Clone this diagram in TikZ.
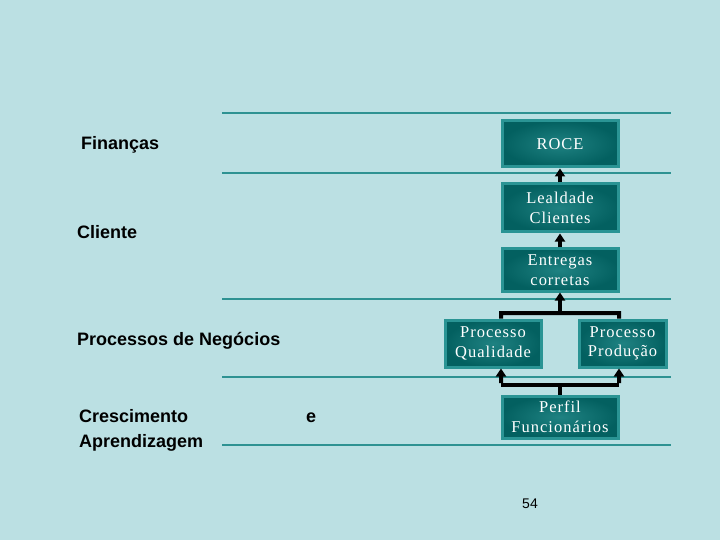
\documentclass[tikz,border=0pt]{standalone}
\usepackage{fontspec}
\setmainfont{Liberation Sans}
\newfontfamily\boxfont[LetterSpace=6]{Liberation Serif}
\usetikzlibrary{arrows.meta}
\definecolor{bg}{HTML}{BBE0E3}
\definecolor{rulecol}{HTML}{2E9292}
\definecolor{boxedge}{HTML}{2A9494}
\definecolor{boxin}{HTML}{1F8282}
\definecolor{boxout}{HTML}{036060}
\tikzset{
  rulel/.style={draw=rulecol, line width=2.5bp},
  lab/.style={anchor=base west, inner sep=0pt, font=\bfseries\fontsize{18bp}{21bp}\selectfont, text=black},
  kbox/.style={draw=boxedge, line width=3bp, inner color=boxin, outer color=boxout,
    text=white, align=center, inner sep=0pt,
    font=\boxfont\fontsize{16.5bp}{19.5bp}\selectfont},
  conn/.style={draw=black, line width=4bp},
  arr/.style={conn, -{Triangle[width=10bp,length=8bp]}}
}
\begin{document}
\begin{tikzpicture}[x=1bp,y=-1bp]
\fill[bg] (0,0) rectangle (720,540);
\useasboundingbox (0,0) rectangle (720,540);
% rules
\draw[rulel] (222,113) -- (671,113);
\draw[rulel] (222,173) -- (671,173);
\draw[rulel] (222,299) -- (671,299);
\draw[rulel] (222,377) -- (671,377);
\draw[rulel] (222,445) -- (671,445);
% left labels
\node[lab] (fin) at (81,150) {Finanças};
\node[lab] (cli) at (77,239) {Cliente};
\node[lab] (proc) at (77,345) {Processos de Negócios};
\node[lab] (cres) at (79,422) {Crescimento};
\node[lab] (apr) at (79,447) {Aprendizagem};
\node[lab] (e) at (306,422) {e};
\node[anchor=base, inner sep=0pt, font=\fontsize{14bp}{16bp}\selectfont] (pg) at (530,508) {54};
% boxes
\node[kbox, minimum width=116bp, minimum height=46bp] (roce) at (560,144) {ROCE};
\node[kbox, minimum width=116bp, minimum height=48bp] (leal) at (560,208) {Lealdade\\Clientes};
\node[kbox, minimum width=116bp, minimum height=42bp] (entr) at (560,270) {Entregas\\corretas};
\node[kbox, minimum width=96bp, minimum height=47bp] (qual) at (493,343.5) {Processo\\Qualidade};
\node[kbox, minimum width=87bp, minimum height=47bp] (prod) at (622.5,343.5) {Processo\\Produção};
\node[kbox, minimum width=116bp, minimum height=42bp] (perf) at (560,417) {Perfil\\Funcionários};
% connectors
\draw[arr] (leal.north) -- (roce.south);
\draw[arr] (entr.north) -- (leal.south);
\coordinate (tb) at (560,313);
\coordinate (tbl) at (501,313);
\coordinate (tbr) at (619,313);
\draw[conn] ([xshift=8bp]qual.north) -- (tbl) -- (tbr) -- ([xshift=-3.5bp]prod.north);
\draw[arr] (tb) -- (entr.south);
\coordinate (bb) at (560,385);
\coordinate (bbl) at (501,385);
\coordinate (bbr) at (619,385);
\draw[conn] (perf.north) -- (bb);
\draw[conn] (bbl) -- (bbr);
\draw[arr] ([yshift=2bp]bbl) -- ([xshift=8bp]qual.south);
\draw[arr] ([yshift=2bp]bbr) -- ([xshift=-3.5bp]prod.south);
\end{tikzpicture}
\end{document}
